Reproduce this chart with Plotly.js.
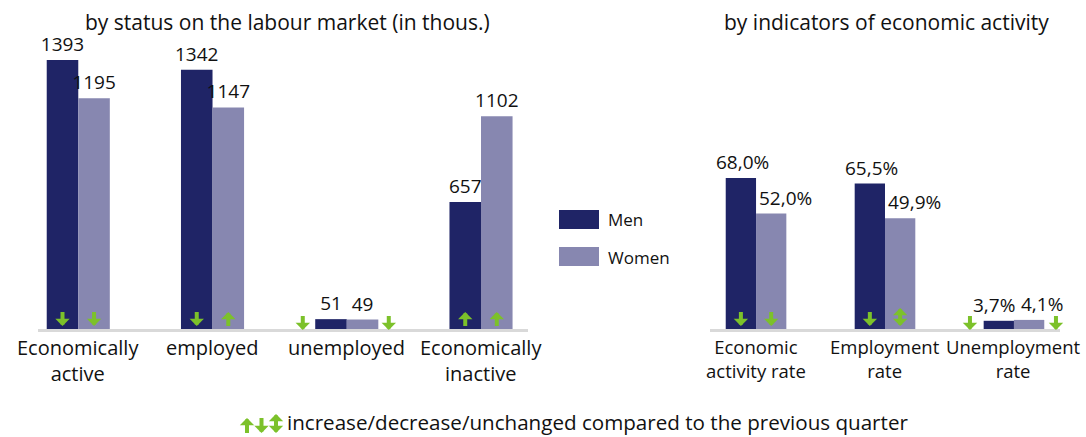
<!DOCTYPE html>
<html>
<head>
<meta charset="utf-8">
<script src="https://cdn.plot.ly/plotly-3.0.1.min.js"></script>
<style>html,body{margin:0;padding:0;background:#fff;}#chart{width:1086px;height:437px;}</style>
</head>
<body>
<div id="chart"></div>
<script>
// ---- data ----
const statusCategories = ['Economically<br>active', 'employed', 'unemployed', 'Economically<br>inactive'];
const statusMen = [1393, 1342, 51, 657];
const statusWomen = [1195, 1147, 49, 1102];
const statusMenChange = ['down', 'down', 'down', 'up'];
const statusWomenChange = ['down', 'up', 'down', 'up'];

const rateCategories = ['Economic<br>activity rate', 'Employment<br>rate', 'Unemployment<br>rate'];
const rateMen = [68.0, 65.5, 3.7];
const rateWomen = [52.0, 49.9, 4.1];
const rateMenChange = ['down', 'down', 'down'];
const rateWomenChange = ['down', 'same', 'down'];

const seriesNames = ['Men', 'Women'];
const titles = ['by status on the labour market (in thous.)', 'by indicators of economic activity'];
const noteSymbols = ['up', 'down', 'same'];
const noteText = 'increase/decrease/unchanged compared to the previous quarter';

// ---- style ----
const W = 1086, H = 437;
const px = x => x / W;
const py = y => 1 - y / H;
const MEN = '#1f2466';
const WOMEN = '#8787b0';
const GREEN = '#7cc12a';
const TXT = '#111111';
const FONT = '"Open Sans", Roboto, sans-serif';
const BARGAP = 0.53;
const half = (1 - BARGAP) / 4;

const idx = arr => arr.map((_, i) => i);
const fmtPct = v => v.toFixed(1).replace('.', ',') + '%';

function barTrace(x, y, text, color, xa, ya, name) {
  const t = {
    type: 'bar', x: x, y: y, name: name,
    marker: {color: color}, xaxis: xa, yaxis: ya,
    cliponaxis: false, constraintext: 'none',
    hoverinfo: 'skip', showlegend: false
  };
  if (text) {
    t.text = text;
    t.textposition = 'outside';
    t.textfont = {family: FONT, size: 19, color: TXT};
  } else {
    t.textposition = 'none';
  }
  return t;
}

const traces = [
  barTrace(idx(statusCategories), statusMen, statusMen.map(String), MEN, 'x', 'y', seriesNames[0]),
  barTrace(idx(statusCategories), statusWomen, statusWomen.map(String), WOMEN, 'x', 'y', seriesNames[1]),
  barTrace(idx(rateCategories), rateMen, null, MEN, 'x2', 'y2', seriesNames[0]),
  barTrace(idx(rateCategories), rateWomen, null, WOMEN, 'x2', 'y2', seriesNames[1])
];

const annotations = [];

// value labels for the rate chart (kept apart when both bars are of similar height)
const rateMax = Math.max(...rateMen, ...rateWomen);
rateMen.forEach((v, i) => {
  const close = Math.abs(rateMen[i] - rateWomen[i]) < 0.1 * rateMax;
  annotations.push({xref: 'x2', yref: 'y2', x: close ? i : i - half, y: rateMen[i], yshift: 1,
    text: fmtPct(rateMen[i]), showarrow: false, xanchor: close ? 'right' : 'center', yanchor: 'bottom',
    xshift: close ? 3 : 2, font: {family: FONT, size: 19, color: TXT}});
  annotations.push({xref: 'x2', yref: 'y2', x: i, y: rateWomen[i], yshift: 1,
    text: fmtPct(rateWomen[i]), showarrow: false, xanchor: 'left', yanchor: 'bottom',
    xshift: close ? 5 : 1, font: {family: FONT, size: 19, color: TXT}});
});

// arrow: anchored at its lower end, tail above; head(s) on the needed side(s)
function arrowSpec(dir, len) {
  const a = {
    showarrow: true, text: '', font: {size: 1}, borderpad: 0, borderwidth: 0,
    axref: 'pixel', ayref: 'pixel', ax: 0, ay: -len, yshift: 0,
    arrowcolor: GREEN, arrowwidth: 4, arrowhead: 1, arrowsize: 0.6,
    startarrowhead: 1, startarrowsize: 0.6, standoff: 0, startstandoff: 0
  };
  if (dir === 'down') a.arrowside = 'end';
  else if (dir === 'up') a.arrowside = 'start';
  else { a.ay = -(len + 4); a.arrowside = 'end+start'; }
  return a;
}
function arrow(xa, ya, x, dir, lift, shiftX) {
  const a = arrowSpec(dir, 14);
  a.xref = xa; a.yref = ya; a.x = x; a.y = 0;
  a.yshift = lift;
  a.xshift = shiftX;
  annotations.push(a);
}
function addArrows(xa, ya, men, women, menCh, womenCh) {
  const maxV = Math.max(...men, ...women);
  men.forEach((v, i) => {
    const small = Math.max(men[i], women[i]) < 0.1 * maxV;
    if (small) {
      // bars too short: arrows beside the pair of bars
      arrow(xa, ya, i, menCh[i], -1, -44);
      arrow(xa, ya, i, womenCh[i], -1, 42);
    } else {
      arrow(xa, ya, i - half, menCh[i], 3, 0);
      arrow(xa, ya, i + half, womenCh[i], 3, 0);
    }
  });
}
addArrows('x', 'y', statusMen, statusWomen, statusMenChange, statusWomenChange);
addArrows('x2', 'y2', rateMen, rateWomen, rateMenChange, rateWomenChange);

// category labels
function catLabels(xa, cats, size) {
  cats.forEach((c, i) => {
    annotations.push({xref: xa, yref: 'paper', x: i, y: py(332), text: c, showarrow: false,
      xanchor: 'center', yanchor: 'top', font: {family: FONT, size: size, color: TXT}});
  });
}
catLabels('x', statusCategories, 20);
catLabels('x2', rateCategories, 18.5);

// titles
annotations.push({xref: 'paper', yref: 'paper', x: px(287), y: py(22), text: titles[0], showarrow: false,
  xanchor: 'center', yanchor: 'middle', font: {family: FONT, size: 21, color: TXT}});
annotations.push({xref: 'paper', yref: 'paper', x: px(886), y: py(22), text: titles[1], showarrow: false,
  xanchor: 'center', yanchor: 'middle', font: {family: FONT, size: 21, color: TXT}});

// legend text
annotations.push({xref: 'paper', yref: 'paper', x: px(606), y: py(219), text: seriesNames[0], showarrow: false,
  xanchor: 'left', yanchor: 'middle', font: {family: FONT, size: 17, color: TXT}});
annotations.push({xref: 'paper', yref: 'paper', x: px(606), y: py(257), text: seriesNames[1], showarrow: false,
  xanchor: 'left', yanchor: 'middle', font: {family: FONT, size: 17, color: TXT}});

// note: symbols + text
noteSymbols.forEach((d, k) => {
  const a = arrowSpec(d, 15);
  a.xref = 'paper'; a.yref = 'paper';
  a.x = px(247 + k * 14.5); a.y = py(433);
  annotations.push(a);
});
annotations.push({xref: 'paper', yref: 'paper', x: px(285), y: py(422), showarrow: false,
  xanchor: 'left', yanchor: 'middle', text: noteText,
  font: {family: FONT, size: 20.6, color: TXT}});

const shapes = [
  {type: 'rect', xref: 'paper', yref: 'paper', x0: px(559), x1: px(599), y0: py(229), y1: py(210), fillcolor: MEN, line: {width: 0}},
  {type: 'rect', xref: 'paper', yref: 'paper', x0: px(559), x1: px(599), y0: py(266), y1: py(247), fillcolor: WOMEN, line: {width: 0}}
];

const xCommon = {
  showline: true, linecolor: '#d9d9d9', linewidth: 3, ticks: '', showgrid: false, zeroline: false,
  showticklabels: false, fixedrange: true
};
const yCommon = {showgrid: false, zeroline: false, showticklabels: false, showline: false, ticks: '', fixedrange: true};

const layout = {
  width: W, height: H, autosize: false,
  margin: {l: 0, r: 0, t: 0, b: 0, pad: 0},
  paper_bgcolor: '#fff', plot_bgcolor: '#fff',
  barmode: 'group', bargap: BARGAP, bargroupgap: 0,
  showlegend: false,
  font: {family: FONT, color: TXT},
  xaxis: Object.assign({}, xCommon, {domain: [px(38), px(528)], range: [-0.3, 3.35],
    tickvals: idx(statusCategories), ticktext: statusCategories, anchor: 'y'}),
  yaxis: Object.assign({}, yCommon, {domain: [py(329), py(20)], range: [0, 1600], anchor: 'x'}),
  xaxis2: Object.assign({}, xCommon, {domain: [px(710), px(1060)], range: [-0.357, 2.357],
    tickvals: idx(rateCategories), ticktext: rateCategories, anchor: 'y2'}),
  yaxis2: Object.assign({}, yCommon, {domain: [py(329), py(40.4)], range: [0, 130], anchor: 'x2'}),
  annotations: annotations,
  shapes: shapes
};

Plotly.newPlot('chart', traces, layout, {staticPlot: true, displayModeBar: false});
</script>
</body>
</html>
